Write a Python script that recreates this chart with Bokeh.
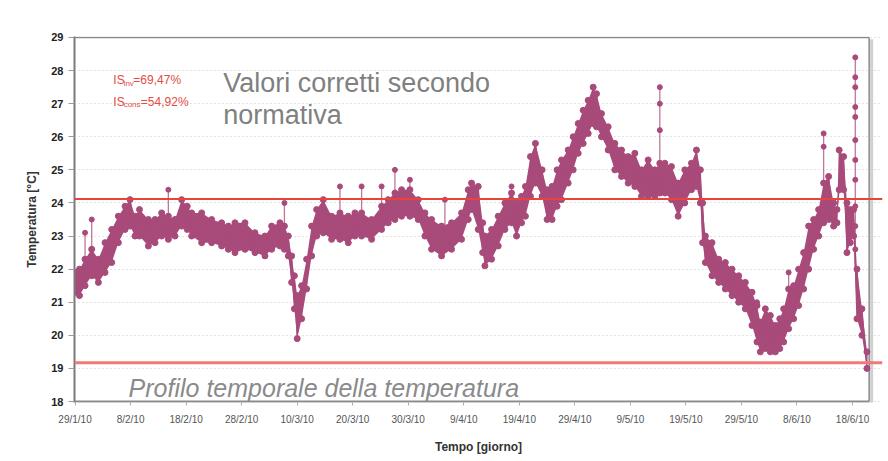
from bokeh.plotting import figure
from bokeh.models import Range1d, FixedTicker, Span, Label, ColumnDataSource
from bokeh.embed import file_html
from bokeh.resources import INLINE

# ---------------- data ----------------
# days since 29/1/10, daily lower / upper envelope of the temperature band [°C]
day = [0.0, 0.8, 1.8, 3.0, 4.2, 5.4, 6.6, 7.8, 9.0, 9.9, 10.8, 11.6, 13.2, 14.4, 15.6,
       16.8, 18.0, 19.2, 20.2, 21.0, 22.8, 24.6, 26.4, 27.6, 28.8, 30.6, 32.4, 34.2,
       35.4, 36.9, 37.7, 38.4, 39.0, 39.5, 40.0, 40.8, 41.7, 42.6, 43.5, 44.7, 46.2,
       47.7, 49.2, 50.4, 51.6, 53.4, 55.2, 56.4, 57.6, 58.8, 60.3, 61.8, 63.0, 64.2,
       66.0, 67.8, 69.6, 70.8, 71.4, 72.6, 73.4, 73.8, 75.0, 76.2, 77.4, 78.6, 79.5,
       80.4, 81.1, 82.0, 82.9, 84.1, 85.0, 85.9, 86.8, 87.6, 88.8, 89.7, 90.6, 91.5,
       92.4, 93.3, 93.9, 94.8, 96.0, 97.2, 98.4, 99.6, 100.8, 102.0, 103.2, 104.4,
       105.3, 106.2, 107.4, 108.6, 109.8, 111.0, 111.9, 112.6, 113.0, 113.5, 114.7,
       115.9, 117.1, 118.3, 119.5, 120.7, 121.9, 122.8, 123.4, 124.3, 125.2, 126.1,
       126.9, 127.6, 128.5, 129.4, 130.3, 131.2, 132.1, 133.0, 133.9, 134.8, 135.7,
       136.6, 137.2, 137.6, 138.4, 139.0, 139.6, 140.2, 140.8, 141.7, 142.6]
t_low = [21.3, 21.2, 21.5, 21.8, 21.6, 21.9, 22.2, 22.8, 23.2, 23.3, 23.0, 23.0, 22.7, 22.8, 23.0,
         22.9, 23.0, 23.3, 23.2, 23.0, 22.8, 22.8, 22.7, 22.6, 22.5, 22.6, 22.5, 22.4,
         22.6, 22.7, 22.6, 22.4, 21.6, 20.8, 19.9, 20.5, 21.4, 22.4, 23.0, 23.1, 22.9,
         22.9, 22.8, 23.0, 23.0, 22.9, 23.2, 23.4, 23.5, 23.6, 23.6, 23.5, 23.0, 22.6,
         22.4, 22.6, 22.9, 23.5, 23.8, 23.2, 22.5, 22.1, 22.3, 22.7, 23.2, 23.4, 23.0,
         23.4, 23.6, 24.2, 24.6, 24.2, 23.5, 23.5, 23.9, 24.1, 24.6, 25.0, 25.5, 25.8,
         26.1, 26.4, 26.3, 26.0, 25.6, 25.0, 24.8, 24.6, 24.5, 24.2, 24.2, 24.2,
         24.3, 24.3, 24.1, 23.6, 24.0, 24.4, 24.5, 24.0, 22.8, 22.2, 21.8,
         21.6, 21.4, 21.2, 21.0, 20.8, 20.3, 19.8, 19.5, 19.6, 19.5, 19.5,
         19.6, 19.8, 20.2, 20.5, 20.9, 21.4, 22.0, 22.6, 23.0, 23.4, 23.5,
         23.3, 23.4, 24.4, 24.4, 22.5, 22.8, 23.0, 20.5, 20.0, 19.0]
t_high = [21.9, 22.0, 22.3, 22.6, 22.3, 22.8, 23.2, 23.6, 23.9, 24.1, 23.6, 23.8, 23.5, 23.5, 23.7,
          23.6, 23.5, 24.1, 23.9, 23.7, 23.7, 23.5, 23.4, 23.3, 23.4, 23.4, 23.1, 23.0,
          23.3, 23.4, 23.3, 23.0, 22.4, 21.8, 21.2, 21.5, 22.3, 23.3, 23.8, 24.1, 23.6,
          23.7, 23.6, 23.7, 23.7, 23.5, 23.9, 24.1, 24.3, 24.4, 24.4, 24.1, 23.7, 23.5,
          23.3, 23.4, 23.7, 24.4, 24.6, 24.5, 23.4, 23.0, 23.2, 23.6, 24.0, 24.3, 24.0,
          24.2, 24.5, 25.4, 25.8, 25.0, 24.4, 24.5, 25.0, 25.3, 25.6, 26.0, 26.4, 26.8,
          27.1, 27.5, 27.3, 26.7, 26.3, 25.8, 25.6, 25.4, 25.5, 25.0, 25.3, 25.0,
          25.2, 25.2, 25.1, 24.6, 25.0, 25.2, 25.6, 25.0, 24.0, 23.0, 22.8,
          22.3, 22.2, 22.0, 21.8, 21.6, 21.3, 20.9, 20.4, 20.8, 20.6, 20.3,
          20.5, 20.8, 21.4, 21.5, 22.0, 22.5, 23.3, 23.5, 23.8, 24.6, 24.8,
          24.0, 23.8, 25.6, 25.4, 24.0, 23.8, 23.8, 22.0, 20.8, 19.5]

# isolated spikes: day, band value, peak value
spike_day = [1.8, 3.0, 16.8, 37.7, 47.7, 51.6, 55.2, 57.6, 60.3, 66.6, 78.6, 105.3, 122.8, 128.5, 134.8, 140.5]
spike_base = [22.3, 22.6, 23.6, 23.3, 23.7, 23.7, 23.9, 24.3, 24.4, 23.3, 24.3, 25.2, 20.9, 21.4, 24.6, 22.0]
spike_top = [23.1, 23.5, 24.4, 24.0, 24.5, 24.5, 24.5, 25.0, 24.7, 24.1, 24.5, 27.5, 21.0, 21.9, 26.1, 28.4]
# readings along the largest spikes
spike_pt_day = [105.3, 105.3, 134.8, 140.5, 140.5, 140.5, 140.5, 140.5, 140.5, 140.5, 140.5, 140.5, 140.5]
spike_pt_t = [27.0, 26.2, 25.7, 27.8, 27.5, 26.9, 26.6, 25.9, 25.3, 24.7, 23.9, 23.3, 22.6]

# limit lines
t_upper_limit = 24.12
t_lower_limit = 19.17

tick_days = [0, 10, 20, 30, 40, 50, 60, 70, 80, 90, 100, 110, 120, 130, 140]
tick_labels = ["29/1/10", "8/2/10", "18/2/10", "28/2/10", "10/3/10", "20/3/10", "30/3/10",
               "9/4/10", "19/4/10", "29/4/10", "9/5/10", "19/5/10", "29/5/10", "8/6/10", "18/6/10"]
y_ticks = list(range(18, 30))
x_end = 143.0
y_min, y_max = 18, 29

# ---------------- figure ----------------
COL = "#a84a7a"
FONT = "Liberation Sans"

p = figure(width=883, height=456, x_range=Range1d(-0.1, 145.4), y_range=Range1d(17.97, 29.03),
           output_backend="svg", toolbar_location=None,
           min_border_left=74, min_border_right=1, min_border_top=36, min_border_bottom=50)
p.outline_line_color = None
p.background_fill_color = "white"
p.border_fill_color = "white"

p.xgrid.grid_line_color = None
p.ygrid.ticker = FixedTicker(ticks=y_ticks)
p.ygrid.grid_line_color = "#c8c8c8"
p.ygrid.grid_line_dash = "1 3"
p.ygrid.grid_line_width = 1

# y axis
p.yaxis.ticker = FixedTicker(ticks=y_ticks)
p.yaxis.axis_label = "Temperatura [°C]"
p.yaxis.axis_label_text_font = FONT
p.yaxis.axis_label_text_font_size = "12px"
p.yaxis.axis_label_text_font_style = "bold"
p.yaxis.axis_label_text_color = "#333333"
p.yaxis.axis_label_standoff = 9
p.yaxis.major_label_text_font = FONT
p.yaxis.major_label_text_font_size = "11px"
p.yaxis.major_label_text_font_style = "bold"
p.yaxis.major_label_text_color = "#222222"
p.yaxis.major_label_standoff = 5
p.yaxis.major_tick_out = 6
p.yaxis.major_tick_in = 0
p.yaxis.minor_tick_line_color = None
p.yaxis.axis_line_color = "#7a7a7a"
p.yaxis.axis_line_width = 2
p.yaxis.major_tick_line_color = "#9a9a9a"

# x axis
p.xaxis.ticker = FixedTicker(ticks=tick_days)
p.xaxis.major_label_overrides = {d: lab for d, lab in zip(tick_days, tick_labels)}
p.xaxis.axis_label = "Tempo [giorno]"
p.xaxis.axis_label_text_font = FONT
p.xaxis.axis_label_text_font_size = "12px"
p.xaxis.axis_label_text_font_style = "bold"
p.xaxis.axis_label_text_color = "#333333"
p.xaxis.axis_label_standoff = 12
p.xaxis.major_label_text_font = FONT
p.xaxis.major_label_text_font_size = "10px"
p.xaxis.major_label_text_color = "#555555"
p.xaxis.major_label_standoff = 8
p.xaxis.major_tick_out = 3
p.xaxis.major_tick_in = 0
p.xaxis.minor_tick_line_color = None
p.xaxis.axis_line_color = None
p.xaxis.major_tick_line_color = "#aaaaaa"

# plot-area frame with shadow (right / bottom)
p.segment(x0=[x_end + 0.45], y0=[y_min - 0.03], x1=[x_end + 0.45], y1=[y_max - 0.05],
          line_color="#d0d0d0", line_width=3)
p.segment(x0=[0.3], y0=[y_min - 0.06], x1=[x_end + 0.45], y1=[y_min - 0.06],
          line_color="#d0d0d0", line_width=3)
p.segment(x0=[0, 0, x_end], y0=[y_max, y_min, y_min], x1=[x_end, x_end, x_end], y1=[y_max, y_min, y_max],
          line_color="#8a8a8a", line_width=[1.5, 2, 1.5])

# data band
src = ColumnDataSource(dict(day=day, lo=t_low, hi=t_high))
p.varea(x="day", y1="lo", y2="hi", source=src, fill_color=COL)
zz_x, zz_y = [], []
for d, lo, hi in zip(day, t_low, t_high):
    zz_x += [d, d]
    zz_y += [lo, hi]
p.line(zz_x, zz_y, line_color=COL, line_width=1.2)
p.scatter(x="day", y="lo", source=src, size=6, marker="circle", fill_color=COL, line_color=COL)
p.scatter(x="day", y="hi", source=src, size=6, marker="circle", fill_color=COL, line_color=COL)

# spikes
p.segment(x0=spike_day, y0=spike_base, x1=spike_day, y1=spike_top, line_color=COL,
          line_width=1.3, line_alpha=0.75)
p.scatter(spike_day, spike_top, size=5, marker="circle", fill_color=COL, line_color=COL)
p.scatter(spike_pt_day, spike_pt_t, size=5, marker="circle", fill_color=COL, line_color=COL)

# limit lines
p.add_layout(Span(location=t_upper_limit, dimension="width", line_color="#e8443a", line_width=2))
p.add_layout(Span(location=t_lower_limit, dimension="width", line_color="#f07a78", line_width=3))

# annotations
RED = "#e64a44"
for txt, x, y, size in [("IS", 6.9, 27.71, "12px"), ("inv", 8.75, 27.62, "8px"), ("=69,47%", 10.5, 27.71, "12px"),
                        ("IS", 6.9, 27.06, "12px"), ("cons", 8.75, 26.97, "8px"), ("=54,92%", 11.85, 27.06, "12px")]:
    p.add_layout(Label(x=x, y=y, text=txt, text_font=FONT, text_font_size=size, text_color=RED,
                       text_baseline="alphabetic", text_align="left"))

p.add_layout(Label(x=26.7, y=27.625, text="Valori corretti secondo", text_font=FONT,
                   text_font_size="27px", text_color="#808080", text_baseline="alphabetic"))
p.add_layout(Label(x=26.7, y=26.67, text="normativa", text_font=FONT,
                   text_font_size="27px", text_color="#808080", text_baseline="alphabetic"))
p.add_layout(Label(x=9.64, y=18.42, text="Profilo temporale della temperatura", text_font=FONT,
                   text_font_size="25px", text_font_style="italic", text_color="#8a8a8a",
                   text_baseline="alphabetic"))

open("out.html", "w").write(file_html(p, INLINE))
